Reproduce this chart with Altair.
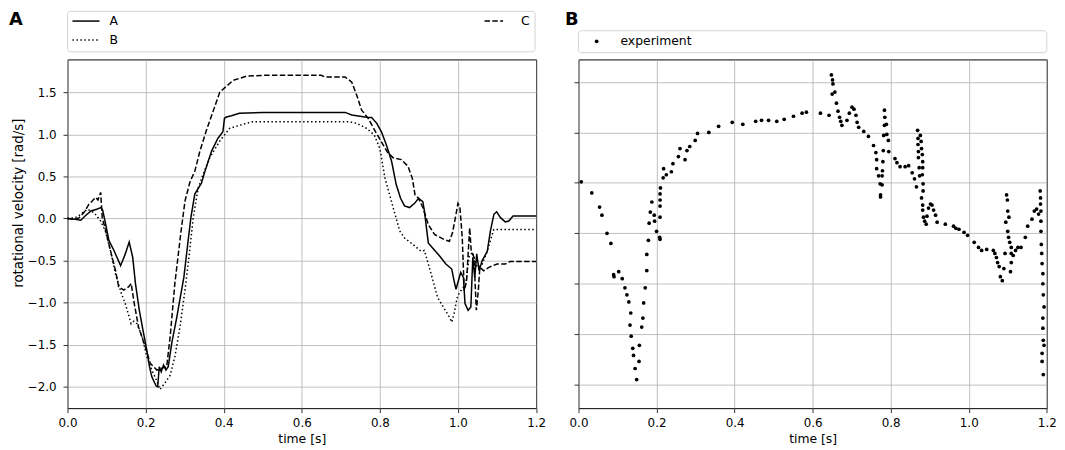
import altair as alt
import pandas as pd

# ---------------- data ----------------
SERIES_NAMES = ["A", "B", "C"]
EXP_NAME = "experiment"
PANEL_LETTERS = ["A", "B"]
X_TICKS = [0.0, 0.2, 0.4, 0.6, 0.8, 1.0, 1.2]
YA_TICKS = [-2.0, -1.5, -1.0, -0.5, 0.0, 0.5, 1.0, 1.5]
YB_TICKS = [-2.0, -1.5, -1.0, -0.5, 0.0, 0.5, 1.0]
X_TITLE = "time [s]"
Y_TITLE = "rotational velocity [rad/s]"

curve_a = [
    (0.0, 0.0), (0.02, -0.01), (0.034, -0.02), (0.045, 0.03), (0.06, 0.09), (0.075, 0.11),
    (0.085, 0.13), (0.09, 0.10), (0.097, -0.05), (0.106, -0.26), (0.119, -0.38), (0.136, -0.56),
    (0.148, -0.42), (0.158, -0.28), (0.167, -0.46), (0.174, -0.77), (0.184, -1.09), (0.193, -1.32),
    (0.203, -1.56), (0.21, -1.76), (0.216, -1.88), (0.227, -1.99), (0.231, -2.0), (0.235, -1.76),
    (0.24, -1.82), (0.246, -1.74), (0.252, -1.80), (0.258, -1.76), (0.267, -1.48), (0.28, -1.17),
    (0.286, -1.01), (0.298, -0.70), (0.309, -0.26), (0.316, 0.01), (0.326, 0.29), (0.343, 0.42),
    (0.352, 0.56), (0.369, 0.80), (0.385, 0.95), (0.398, 1.03), (0.402, 1.19), (0.407, 1.205),
    (0.42, 1.22), (0.44, 1.25), (0.5, 1.26), (0.6, 1.26), (0.711, 1.26), (0.728, 1.23),
    (0.77, 1.20), (0.779, 1.20), (0.792, 1.13), (0.804, 1.03), (0.817, 0.87), (0.83, 0.68),
    (0.842, 0.40), (0.853, 0.24), (0.863, 0.15), (0.876, 0.13), (0.889, 0.18), (0.899, 0.24),
    (0.91, 0.20), (0.914, 0.09), (0.924, -0.29), (0.935, -0.35), (0.952, -0.44), (0.969, -0.54),
    (0.984, -0.60), (0.99, -0.74), (0.995, -0.84), (1.001, -0.74), (1.007, -0.64), (1.014, -0.70),
    (1.018, -1.01), (1.026, -1.09), (1.033, -1.05), (1.038, -0.46), (1.043, -0.70), (1.048, -0.42),
    (1.054, -0.62), (1.062, -0.50), (1.075, -0.39), (1.083, -0.15), (1.092, 0.05), (1.099, 0.08),
    (1.109, 0.01), (1.121, -0.04), (1.13, -0.03), (1.141, 0.03), (1.2, 0.03),
]

curve_b = [
    (0.0, 0.0), (0.02, 0.01), (0.034, 0.05), (0.051, 0.11), (0.068, 0.07), (0.085, -0.03),
    (0.097, -0.15), (0.11, -0.38), (0.123, -0.66), (0.138, -0.89), (0.148, -1.01), (0.163, -1.25),
    (0.17, -1.22), (0.178, -1.25), (0.191, -1.40), (0.203, -1.64), (0.216, -1.80), (0.227, -1.91),
    (0.237, -2.03), (0.25, -1.95), (0.263, -1.86), (0.275, -1.64), (0.288, -1.29), (0.301, -0.85),
    (0.312, -0.42), (0.322, 0.01), (0.335, 0.37), (0.347, 0.52), (0.364, 0.72), (0.39, 0.92),
    (0.415, 1.07), (0.45, 1.12), (0.474, 1.15), (0.55, 1.15), (0.72, 1.15), (0.741, 1.13),
    (0.766, 1.07), (0.786, 0.99), (0.8, 0.83), (0.813, 0.48), (0.834, 0.13), (0.851, -0.15),
    (0.863, -0.23), (0.885, -0.31), (0.906, -0.39), (0.914, -0.38), (0.929, -0.62), (0.948, -0.94),
    (0.965, -1.07), (0.978, -1.17), (0.984, -1.23), (0.99, -1.13), (0.999, -0.92), (1.007, -0.86),
    (1.02, -0.78), (1.028, -0.46), (1.037, -0.40), (1.049, -0.58), (1.062, -0.54), (1.075, -0.39),
    (1.085, -0.23), (1.092, -0.13), (1.2, -0.13),
]

curve_c = [
    (0.0, 0.0), (0.02, -0.01), (0.03, 0.01), (0.042, 0.07), (0.055, 0.17), (0.064, 0.21),
    (0.072, 0.25), (0.078, 0.22), (0.085, 0.31), (0.089, 0.01), (0.096, -0.11), (0.11, -0.38),
    (0.123, -0.62), (0.131, -0.81), (0.144, -0.85), (0.157, -0.81), (0.163, -0.77), (0.171, -1.01),
    (0.182, -1.29), (0.199, -1.52), (0.212, -1.72), (0.229, -1.80), (0.24, -1.78), (0.254, -1.76),
    (0.263, -1.40), (0.275, -0.77), (0.29, -0.18), (0.301, 0.21), (0.314, 0.44), (0.326, 0.56),
    (0.339, 0.80), (0.356, 1.05), (0.39, 1.50), (0.424, 1.64), (0.458, 1.69), (0.5, 1.70),
    (0.65, 1.70), (0.66, 1.68), (0.711, 1.68), (0.728, 1.62), (0.741, 1.46), (0.753, 1.29),
    (0.77, 1.19), (0.789, 1.03), (0.804, 0.91), (0.819, 0.79), (0.834, 0.72), (0.855, 0.70),
    (0.872, 0.62), (0.883, 0.48), (0.89, 0.28), (0.899, 0.24), (0.91, 0.13), (0.924, -0.07),
    (0.94, -0.19), (0.965, -0.25), (0.978, -0.27), (0.986, -0.17), (0.995, 0.05), (1.0, 0.18),
    (1.005, 0.13), (1.011, -0.23), (1.016, -0.86), (1.022, -0.74), (1.03, -0.11), (1.034, -0.39),
    (1.041, -0.46), (1.047, -1.09), (1.052, -0.86), (1.056, -0.58), (1.066, -0.62), (1.079, -0.58),
    (1.1, -0.54), (1.121, -0.54), (1.134, -0.51), (1.2, -0.51),
]

experiment = [
    (0.007, 0.01), (0.034, -0.10), (0.054, -0.24), (0.06, -0.32), (0.073, -0.50), (0.083, -0.60),
    (0.09, -0.91), (0.091, -0.93), (0.103, -0.88), (0.112, -0.95), (0.119, -1.04), (0.124, -1.11),
    (0.129, -1.18), (0.134, -1.29), (0.132, -1.41), (0.135, -1.52), (0.139, -1.64), (0.141, -1.71),
    (0.145, -1.84), (0.149, -1.95), (0.155, -1.77), (0.156, -1.61), (0.162, -1.43), (0.165, -1.34),
    (0.167, -1.19), (0.171, -1.04), (0.175, -0.87), (0.175, -0.71), (0.179, -0.57), (0.181, -0.40),
    (0.184, -0.29), (0.188, -0.19), (0.194, -0.32), (0.195, -0.38), (0.2, -0.48), (0.208, -0.54),
    (0.209, -0.56), (0.209, -0.34), (0.209, -0.23), (0.209, -0.17), (0.209, -0.11), (0.21, -0.05),
    (0.217, 0.05), (0.218, 0.14), (0.225, 0.08), (0.238, 0.11), (0.242, 0.19), (0.256, 0.26),
    (0.26, 0.34), (0.273, 0.23), (0.278, 0.32), (0.285, 0.36), (0.299, 0.42), (0.305, 0.49),
    (0.334, 0.50), (0.359, 0.56), (0.394, 0.60), (0.421, 0.58), (0.454, 0.61), (0.469, 0.62),
    (0.487, 0.62), (0.508, 0.61), (0.527, 0.63), (0.551, 0.66), (0.573, 0.69), (0.584, 0.70),
    (0.62, 0.69), (0.642, 0.67), (0.648, 1.07), (0.651, 1.02), (0.652, 0.98), (0.657, 0.90),
    (0.65, 0.88), (0.661, 0.79), (0.665, 0.71), (0.669, 0.65), (0.672, 0.61), (0.675, 0.57),
    (0.688, 0.62), (0.694, 0.69), (0.701, 0.75), (0.706, 0.73), (0.711, 0.67), (0.714, 0.60),
    (0.718, 0.55), (0.731, 0.51), (0.743, 0.46), (0.756, 0.37), (0.762, 0.30), (0.764, 0.23),
    (0.764, 0.14), (0.769, 0.07), (0.773, -0.01), (0.778, -0.02), (0.774, -0.12), (0.774, -0.14),
    (0.778, 0.07), (0.779, 0.12), (0.78, 0.21), (0.781, 0.32), (0.782, 0.47), (0.784, 0.57),
    (0.785, 0.65), (0.784, 0.72), (0.789, 0.58), (0.79, 0.48), (0.794, 0.42), (0.795, 0.31),
    (0.811, 0.24), (0.816, 0.20), (0.824, 0.16), (0.837, 0.16), (0.846, 0.17), (0.855, 0.10),
    (0.861, 0.04), (0.866, -0.04), (0.869, 0.52), (0.87, 0.44), (0.87, 0.38), (0.871, 0.31),
    (0.871, 0.25), (0.873, 0.15), (0.874, 0.07), (0.876, 0.47), (0.878, 0.41), (0.879, 0.34),
    (0.881, 0.28), (0.882, 0.21), (0.882, 0.15), (0.881, 0.08), (0.883, -0.01), (0.883, -0.08),
    (0.879, -0.15), (0.882, -0.22), (0.882, -0.27), (0.884, -0.34), (0.887, -0.38), (0.891, -0.41),
    (0.893, -0.33), (0.897, -0.25), (0.902, -0.21), (0.906, -0.22), (0.91, -0.27), (0.915, -0.32),
    (0.919, -0.39), (0.94, -0.41), (0.961, -0.43), (0.967, -0.45), (0.975, -0.46), (0.988, -0.49),
    (0.997, -0.52), (1.014, -0.59), (1.025, -0.64), (1.033, -0.67), (1.046, -0.66), (1.063, -0.67),
    (1.067, -0.70), (1.071, -0.74), (1.074, -0.79), (1.078, -0.83), (1.081, -0.93), (1.086, -0.97),
    (1.09, -0.85), (1.093, -0.70), (1.095, -0.39), (1.097, -0.12), (1.099, -0.17), (1.1, -0.28),
    (1.103, -0.34), (1.1, -0.48), (1.102, -0.54), (1.105, -0.59), (1.109, -0.64), (1.109, -0.70),
    (1.109, -0.79), (1.107, -0.88), (1.114, -0.72), (1.12, -0.67), (1.126, -0.64), (1.134, -0.64),
    (1.145, -0.54), (1.151, -0.43), (1.162, -0.36), (1.168, -0.28), (1.174, -0.26), (1.179, -0.31),
    (1.183, -0.08), (1.184, -0.15), (1.184, -0.21), (1.185, -0.28), (1.185, -0.38), (1.185, -0.48),
    (1.186, -0.61), (1.187, -0.70), (1.188, -0.80), (1.19, -0.90), (1.19, -1.00), (1.191, -1.11),
    (1.193, -1.23), (1.19, -1.34), (1.19, -1.44), (1.191, -1.56), (1.193, -1.61), (1.188, -1.69),
    (1.188, -1.77), (1.191, -1.90),
]


def frame(pts, name):
    return pd.DataFrame({
        "t": [p[0] for p in pts],
        "v": [p[1] for p in pts],
        "i": list(range(len(pts))),
        "series": name,
    })


# ---------------- styling ----------------
FONT = "DejaVu Sans"
WA, HA = 472.6, 351.7
WB = 472.3
INK = "#000000"
LEG_EDGE = "#d3d3d3"
DOT_DASH = [1.5, 2.5]
DASH = [5.5, 2.4]

one = pd.DataFrame({"k": [0]})


def x_enc():
    return alt.X(
        "t:Q",
        scale=alt.Scale(domain=[0, 1.2], nice=False, zero=False),
        axis=alt.Axis(values=X_TICKS, format=".1f", title=X_TITLE,
                      titleY=24.5, titleBaseline="top"),
    )


yA = alt.Y(
    "v:Q",
    scale=alt.Scale(domain=[-2.252, 1.889], nice=False, zero=False),
    axis=alt.Axis(values=YA_TICKS, format=".1f", title=Y_TITLE,
                  titleX=-49, titleY=144.5, titleAngle=270, titleAlign="center",
                  titleBaseline="middle", titleFontSize=13.5),
)

yB = alt.Y(
    "v:Q",
    scale=alt.Scale(domain=[-2.233, 1.223], nice=False, zero=False),
    axis=alt.Axis(values=YB_TICKS, labels=False, title=None),
)


def curve_layer(pts, name, dash):
    kw = dict(color=INK, strokeWidth=1.5, strokeCap="butt")
    if dash:
        kw["strokeDash"] = dash
    return alt.Chart(frame(pts, name)).mark_line(**kw).encode(
        x=x_enc(), y=yA, order="i:Q")


def text_layer(label, x, y, size=12.5, weight="normal", baseline="middle"):
    return alt.Chart(pd.DataFrame({"label": [label]})).mark_text(
        font=FONT, fontSize=size, fontWeight=weight, color=INK,
        align="left", baseline=baseline,
    ).encode(text="label:N", x=alt.value(x), y=alt.value(y))


def sample_rule(x1, x2, y, dash):
    kw = dict(color=INK, strokeWidth=1.5, strokeCap="butt")
    if dash:
        kw["strokeDash"] = dash
    return alt.Chart(one).mark_rule(**kw).encode(
        x=alt.value(x1), x2=alt.value(x2), y=alt.value(y))


# ---------------- panel A ----------------
legA_box = alt.Chart(one).mark_rect(
    fill="white", stroke=LEG_EDGE, strokeWidth=1, cornerRadius=3
).encode(x=alt.value(0), x2=alt.value(WA - 1), y=alt.value(-48.5), y2=alt.value(-7.7))

panelA = alt.layer(
    curve_layer(curve_a, SERIES_NAMES[0], None),
    curve_layer(curve_b, SERIES_NAMES[1], DOT_DASH),
    curve_layer(curve_c, SERIES_NAMES[2], DASH),
    legA_box,
    sample_rule(5, 32.3, -38.7, None),
    sample_rule(5, 32.3, -19.7, DOT_DASH),
    sample_rule(420.6, 439.3, -38.7, DASH),
    text_layer(SERIES_NAMES[0], 42.3, -38.7),
    text_layer(SERIES_NAMES[1], 42.3, -19.7),
    text_layer(SERIES_NAMES[2], 457.3, -38.7),
    text_layer(PANEL_LETTERS[0], -59, -35, size=18, weight="bold", baseline="alphabetic"),
).properties(width=WA, height=HA)

# ---------------- panel B ----------------
legB_box = alt.Chart(one).mark_rect(
    fill="white", stroke=LEG_EDGE, strokeWidth=1, cornerRadius=3
).encode(x=alt.value(0), x2=alt.value(WB), y=alt.value(-29), y2=alt.value(-6.8))

points = alt.Chart(frame(experiment, EXP_NAME)).mark_circle(
    size=14, color=INK, opacity=1
).encode(x=x_enc(), y=yB)

legB_dot = alt.Chart(one).mark_circle(size=14, color=INK, opacity=1).encode(
    x=alt.value(18.3), y=alt.value(-18.3))

panelB = alt.layer(
    points,
    legB_box,
    legB_dot,
    text_layer(EXP_NAME, 42.3, -18.3),
    text_layer(PANEL_LETTERS[1], -13.7, -35, size=18, weight="bold", baseline="alphabetic"),
).properties(width=WB, height=HA)

chart = alt.hconcat(panelA, panelB, spacing=42.4, bounds="flush").properties(
    padding=0
).configure_view(
    stroke=INK, strokeWidth=1
).configure_axis(
    labelFont=FONT, labelFontSize=12, labelColor=INK, labelFlush=False,
    titleFont=FONT, titleFontSize=12.5, titleFontWeight="normal", titleColor=INK,
    tickColor=INK, tickWidth=0.8, tickSize=4.5,
    grid=True, gridColor="#b0b0b0", gridWidth=0.8, domain=False,
).configure_axisX(labelPadding=5.5).configure_axisY(labelPadding=7)

chart.save("out.html", embed_options={"renderer": "svg", "actions": False})
